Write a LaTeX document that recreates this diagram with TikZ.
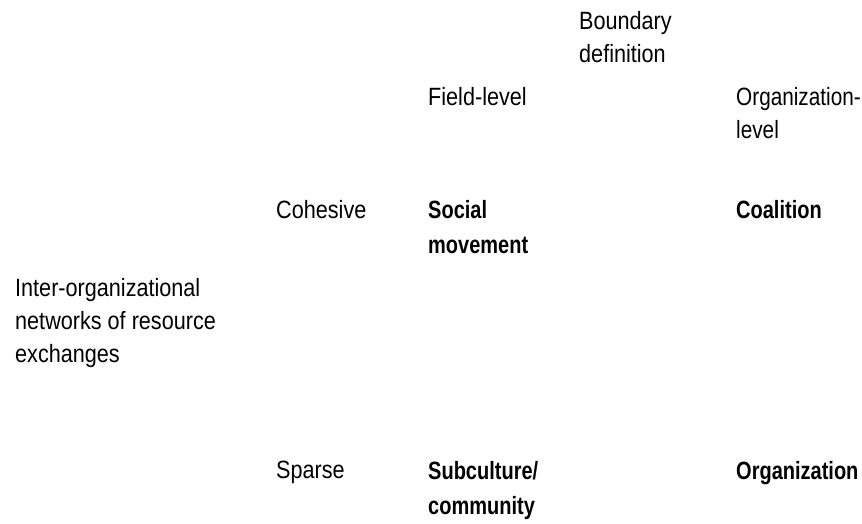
\documentclass[tikz,border=0pt]{standalone}
\usepackage{fontspec}
\setmainfont{Liberation Sans}[FakeStretch=0.865,BoldFeatures={FakeStretch=0.8}]
\newfontfamily\narrowsans{Liberation Sans}[FakeStretch=0.83]
\begin{document}
\begin{tikzpicture}[x=1pt,y=1pt,
  lbl/.style={anchor=north west,inner sep=0pt,align=left,
    font=\fontsize{25}{33}\selectfont},
  narrowlbl/.style={lbl,font=\fontsize{25}{33}\selectfont\narrowsans},
  cell/.style={lbl,font=\fontsize{25}{35}\selectfont\bfseries}]
\useasboundingbox (0,0) rectangle (862,-523);
% column header
\node[lbl] (bd) at (579,-11) {Boundary\\definition};
\node[lbl] (fl) at (428,-87) {Field-level};
\node[narrowlbl] (ol) at (736,-87) {Organization-\\level};
% row header
\node[lbl] (net) at (15,-278) {Inter-organizational\\networks of resource\\exchanges};
\node[lbl] (coh) at (276,-200) {Cohesive};
\node[lbl] (spa) at (276,-461) {Sparse};
% cells
\node[cell] (sm) at (428,-200) {Social\\movement};
\node[cell] (co) at (736,-200) {Coalition};
\node[cell] (sc) at (428,-461) {Subculture/\\community};
\node[cell] (org) at (736,-461) {Organization};
\end{tikzpicture}
\end{document}
